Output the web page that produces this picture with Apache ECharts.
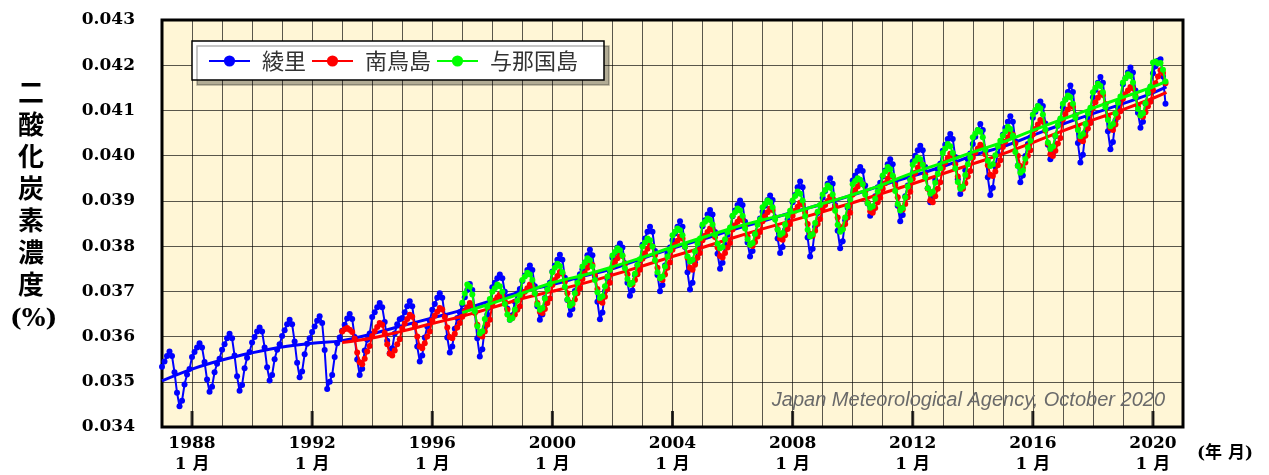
<!DOCTYPE html>
<html>
<head>
<meta charset="utf-8">
<script src="https://cdn.jsdelivr.net/npm/echarts@6/dist/echarts.min.js"></script>
<style>
html,body{margin:0;padding:0;background:#fff;}
#chart{width:1269px;height:475px;}
</style>
</head>
<body>
<div id="chart"></div>
<script>
// Monthly CO2 concentration (ppm; axis shows as %)
const seriesNames = ['綾里', '南鳥島', '与那国島'];
const ryoriStart = 1987;   // first month: Jan 1987
const ryoriValues = [
353.3,354.5,355.7,356.7,355.7,352.1,347.6,344.6,345.8,349.4,351.6,352.8,
355.5,356.6,357.6,358.5,357.6,354.4,350.5,347.8,348.9,352.1,354.0,355.1,
357.1,358.3,359.6,360.6,359.6,355.8,351.2,348.0,349.3,353.0,355.3,356.6,
358.7,359.9,361.1,362.0,361.1,357.6,353.2,350.3,351.5,355.0,357.1,358.3,
360.1,361.4,362.7,363.7,362.7,358.9,354.2,351.0,352.3,356.1,358.4,359.6,
361.0,362.2,363.5,364.5,363.0,357.0,348.4,350.0,351.5,355.5,358.5,359.8,
361.3,362.6,364.0,365.0,363.9,359.9,354.9,351.5,352.9,356.9,359.3,360.7,
364.3,365.4,366.5,367.4,366.5,363.2,359.1,356.3,357.4,360.7,362.7,363.8,
364.1,365.4,366.7,367.8,366.7,362.7,357.8,354.5,355.8,359.8,362.2,363.5,
365.9,367.2,368.6,369.6,368.6,364.6,359.8,356.5,357.8,361.7,364.1,365.4,
367.1,368.7,370.3,371.6,370.3,365.5,359.6,355.6,357.2,362.0,364.9,366.5,
370.9,371.9,372.9,373.7,372.9,369.9,366.2,363.7,364.7,367.7,369.5,370.5,
372.3,373.5,374.7,375.7,374.7,371.1,366.7,363.7,364.9,368.5,370.7,371.9,
374.4,375.7,377.0,378.1,377.0,373.0,368.1,364.8,366.1,370.1,372.5,373.8,
374.9,376.4,378.0,379.2,378.0,373.3,367.7,363.8,365.3,370.0,372.7,374.3,
377.4,378.5,379.7,380.6,379.7,376.2,371.9,369.0,370.2,373.6,375.7,376.9,
380.3,381.7,383.2,384.3,383.2,378.9,373.6,370.0,371.4,375.7,378.3,379.7,
381.3,382.8,384.3,385.5,384.3,379.8,374.2,370.4,371.9,376.4,379.2,380.7,
384.4,385.7,387.0,388.0,387.0,383.1,378.3,375.0,376.3,380.2,382.5,383.8,
386.6,387.9,389.1,390.1,389.1,385.4,380.8,377.7,378.9,382.7,384.9,386.1,
387.6,388.9,390.2,391.2,390.2,386.4,381.7,378.5,379.8,383.6,385.9,387.1,
389.7,391.3,393.0,394.3,393.0,388.0,381.9,377.7,379.4,384.3,387.3,389.0,
390.7,392.2,393.8,395.0,393.8,389.1,383.4,379.5,381.1,385.7,388.5,390.0,
394.5,395.6,396.6,397.5,396.6,393.4,389.4,386.7,387.8,391.0,393.0,394.0,
395.4,396.7,398.1,399.2,398.1,394.0,388.9,385.5,386.9,391.0,393.4,394.8,
398.7,400.0,401.2,402.2,401.2,397.5,392.8,389.7,391.0,394.7,397.0,398.2,
401.1,402.4,403.7,404.8,403.7,399.7,394.8,391.5,392.8,396.8,399.2,400.5,
402.6,404.2,405.7,407.0,405.7,401.0,395.2,391.3,392.9,397.6,400.4,402.0,
404.6,406.1,407.5,408.7,407.5,403.2,397.8,394.1,395.6,399.9,402.6,404.0,
408.4,409.7,411.0,412.0,411.0,407.1,402.4,399.2,400.5,404.3,406.6,407.9,
410.7,412.4,414.1,415.5,414.1,409.0,402.8,398.5,400.2,405.3,408.4,410.1,
412.9,414.5,416.1,417.4,416.1,411.3,405.4,401.4,403.0,407.8,410.7,412.3,
415.8,417.1,418.4,419.5,418.4,414.4,409.5,406.2,407.5,411.5,413.9,415.2,
418.2,419.8,421.0,421.3,417.5,411.5
];
const minamiStart = 1993;  // first month: Jan 1993
const minamiValues = [
361.1,361.6,361.9,361.5,361.0,359.5,356.5,354.3,353.9,355.1,356.7,357.9,
360.1,361.2,362.1,363.0,362.6,360.8,358.3,356.2,355.8,356.9,358.3,359.4,
361.8,362.9,363.9,364.8,364.4,362.6,360.0,357.8,357.4,358.5,360.0,361.1,
363.6,364.6,365.5,366.3,366.0,364.3,362.0,359.9,359.6,360.6,362.0,363.0,
364.4,365.6,366.5,367.4,367.0,365.2,362.6,360.4,360.0,361.1,362.6,363.7,
367.2,368.0,368.7,369.3,369.0,367.7,365.9,364.4,364.1,364.9,365.9,366.7,
369.0,369.9,370.7,371.5,371.2,369.6,367.4,365.5,365.2,366.1,367.4,368.4,
371.4,372.5,373.4,374.3,373.9,372.1,369.6,367.5,367.1,368.2,369.6,370.7,
372.7,374.0,375.2,376.2,375.8,373.6,370.5,367.9,367.5,368.8,370.5,371.9,
375.5,376.5,377.3,378.1,377.8,376.1,373.8,371.8,371.5,372.5,373.8,374.8,
377.2,378.4,379.4,380.3,379.9,378.0,375.2,372.9,372.5,373.7,375.2,376.4,
379.2,380.3,381.2,382.1,381.7,379.9,377.4,375.2,374.8,375.9,377.4,378.5,
381.3,382.3,383.1,383.9,383.6,382.0,379.7,377.8,377.5,378.5,379.7,380.7,
383.7,384.6,385.4,386.1,385.8,384.3,382.1,380.3,380.0,380.9,382.1,383.1,
385.5,386.6,387.5,388.3,388.0,386.2,383.8,381.7,381.4,382.4,383.8,384.9,
386.7,387.8,388.7,389.6,389.2,387.4,384.9,382.7,382.3,383.4,384.9,386.0,
388.1,389.1,390.0,390.9,390.5,388.8,386.3,384.2,383.8,384.9,386.3,387.4,
391.4,392.4,393.2,394.0,393.7,392.0,389.7,387.7,387.4,388.4,389.7,390.7,
392.7,393.9,394.9,395.8,395.4,393.5,390.8,388.5,388.1,389.3,390.8,392.0,
394.9,396.2,397.4,398.4,398.0,395.8,392.7,390.1,389.7,391.0,392.7,394.1,
397.3,398.5,399.5,400.4,400.0,398.1,395.4,393.1,392.7,393.9,395.4,396.6,
399.6,400.7,401.6,402.4,402.1,400.3,397.9,395.8,395.5,396.5,397.9,399.0,
401.9,403.1,404.1,405.0,404.6,402.7,400.0,397.7,397.3,398.5,400.0,401.2,
404.7,405.9,406.9,407.9,407.5,405.5,402.7,400.3,399.9,401.1,402.7,403.9,
408.0,409.2,410.2,411.2,410.8,408.8,406.0,403.6,403.2,404.4,406.0,407.2,
410.6,411.8,412.8,413.8,413.4,411.4,408.5,406.1,405.7,406.9,408.5,409.8,
412.6,413.6,414.4,415.2,414.9,413.2,410.9,408.9,408.6,409.6,410.9,411.9,
414.5,416.0,417.5,418.9,418.3,416.0
];
const yonaguniStart = 1997; // first month: Jan 1997
const yonaguniValues = [
367.5,369.5,371.5,371.0,369.3,365.6,362.3,360.7,361.2,363.9,366.6,368.3,
369.9,370.7,371.5,371.1,369.9,367.2,364.9,363.7,364.1,366.0,368.0,369.2,
372.5,373.3,374.1,373.7,372.5,369.6,367.1,365.9,366.3,368.4,370.4,371.6,
374.2,375.2,376.1,375.6,374.2,371.0,368.2,366.8,367.3,369.6,371.9,373.3,
375.5,376.4,377.3,376.9,375.5,372.5,369.8,368.5,368.9,371.1,373.3,374.7,
377.9,378.7,379.5,379.1,377.9,375.1,372.7,371.5,371.9,373.9,375.9,377.1,
379.9,380.8,381.7,381.3,379.9,376.9,374.2,372.9,373.3,375.5,377.7,379.1,
382.4,383.2,383.9,383.5,382.4,379.9,377.7,376.6,377.0,378.8,380.6,381.7,
384.8,385.4,386.1,385.8,384.8,382.5,380.5,379.5,379.8,381.5,383.1,384.1,
386.7,387.5,388.3,387.9,386.7,383.9,381.5,380.3,380.7,382.7,384.7,385.9,
388.6,389.3,390.1,389.7,388.6,385.9,383.6,382.5,382.9,384.8,386.7,387.8,
390.1,391.1,392.1,391.6,390.1,386.6,383.6,382.1,382.6,385.1,387.6,389.1,
391.4,392.4,393.4,392.9,391.4,387.8,384.7,383.2,383.7,386.3,388.8,390.3,
393.7,394.4,395.0,394.7,393.7,391.4,389.5,388.5,388.8,390.5,392.1,393.1,
395.6,396.5,397.5,397.0,395.6,392.2,389.3,387.9,388.4,390.8,393.2,394.6,
398.0,398.8,399.6,399.2,398.0,395.2,392.8,391.6,392.0,394.0,396.0,397.2,
400.6,401.6,402.6,402.1,400.6,397.2,394.2,392.7,393.2,395.7,398.1,399.6,
404.1,404.9,405.7,405.3,404.1,401.3,398.9,397.7,398.1,400.1,402.1,403.3,
404.4,405.4,406.4,405.9,404.4,400.8,397.7,396.2,396.7,399.3,401.8,403.3,
409.1,410.1,411.0,410.5,409.1,405.8,402.9,401.5,402.0,404.4,406.7,408.2,
411.5,412.4,413.3,412.9,411.5,408.4,405.7,404.3,404.8,407.0,409.3,410.6,
414.0,415.0,415.9,415.4,414.0,410.7,407.9,406.5,407.0,409.3,411.7,413.1,
416.2,417.1,418.0,417.6,416.2,413.0,410.3,408.9,409.4,411.6,413.9,415.3,
420.6,420.8,420.4,420.5,419.0,416.4
];

// Long-term trend lines (value at the start of each year, last point mid-2020)
const ryoriTrendYears = [1987,1988,1989,1990,1991,1992,1993,1994,1995,1996,1997,1998,1999,2000,2001,2002,2003,2004,2005,2006,2007,2008,2009,2010,2011,2012,2013,2014,2015,2016,2017,2018,2019,2020,2020.45];
const ryoriTrend = [350.2,352.8,354.8,356.4,357.7,358.5,359.1,360.6,362.4,364.1,365.9,368.0,370.0,371.5,373.3,375.0,377.3,379.5,381.5,383.6,385.5,387.5,389.3,391.3,393.5,395.5,397.6,400.0,402.0,404.5,407.0,409.3,411.5,413.9,415.2];
const minamiTrendYears = [1993,1994,1995,1996,1997,1998,1999,2000,2001,2002,2003,2004,2005,2006,2007,2008,2009,2010,2011,2012,2013,2014,2015,2016,2017,2018,2019,2020,2020.45];
const minamiTrend = [358.7,359.7,361.2,362.9,364.5,366.4,368.4,370.0,371.7,373.6,375.6,377.7,379.7,381.8,383.8,385.7,387.6,389.6,391.7,393.8,396.0,398.2,400.4,402.9,405.5,407.9,410.2,412.7,414.0];
const yonaguniTrendYears = [1997,1998,1999,2000,2001,2002,2003,2004,2005,2006,2007,2008,2009,2010,2011,2012,2013,2014,2015,2016,2017,2018,2019,2020,2020.45];
const yonaguniTrend = [365.3,367.4,369.6,371.9,373.5,375.4,377.5,379.8,381.9,384.0,385.8,387.4,389.4,391.4,393.6,396.2,398.4,400.8,403.0,405.6,408.1,410.5,412.9,415.2,416.5];

// Axis ticks
const majorTickYears = [1988,1992,1996,2000,2004,2008,2012,2016,2020];
const tickMonthLabel = '1 月';
const colors = ['#0000ff', '#ff0000', '#00ff00'];

function monthly(start, values) {
  return values.map((v, i) => [start + i / 12, v]);
}
function pairs(xs, ys) {
  return xs.map((x, i) => [x, ys[i]]);
}

const chart = echarts.init(document.getElementById('chart'), null, {renderer: 'canvas'});
const serifFont = "'DejaVu Serif', 'Noto Sans CJK JP', serif";

function dataSeries(name, data, color, z) {
  return {
    name: name, type: 'line', data: data, color: color,
    symbol: 'circle', symbolSize: 6, showSymbol: true,
    lineStyle: {width: 2, color: color},
    itemStyle: {color: color},
    z: z, silent: true
  };
}
function trendSeries(name, data, color, z) {
  return {
    name: name + '_trend', type: 'line', data: data, color: color,
    smooth: 0.4, showSymbol: false, symbol: 'none',
    lineStyle: {width: 3, color: color},
    z: z, silent: true
  };
}

const option = {
  animation: false,
  backgroundColor: '#ffffff',
  grid: {
    left: 162, right: 86, top: 20, bottom: 45,
    show: true, backgroundColor: '#fff6d6',
    borderColor: '#000', borderWidth: 3
  },
  legend: {
    data: seriesNames,
    left: 192, top: 41,
    orient: 'horizontal',
    backgroundColor: '#ffffff',
    borderColor: '#000', borderWidth: 1.5,
    shadowColor: 'rgba(0,0,0,0.3)', shadowBlur: 0, shadowOffsetX: 5, shadowOffsetY: 5,
    padding: [9, 26, 8, 16],
    itemWidth: 41, itemHeight: 14, itemGap: 5,
    textStyle: {fontSize: 22, color: '#333', fontFamily: "'Noto Sans CJK JP', sans-serif", padding: [0, 0, 0, 7]},
    selectedMode: false
  },
  xAxis: {
    type: 'value', min: 1987, max: 2021, interval: 1,
    axisLine: {show: false},
    axisTick: {show: false},
    splitLine: {show: true, lineStyle: {color: 'rgba(0,0,0,0.65)', width: 1}},
    axisLabel: {
      margin: 6, color: '#000', fontSize: 17, fontWeight: 'bold', fontFamily: serifFont,
      lineHeight: 21, showMinLabel: true, showMaxLabel: true,
      formatter: function (v) {
        return majorTickYears.indexOf(Math.round(v)) >= 0 ? v + '\n' + tickMonthLabel : '';
      }
    }
  },
  yAxis: {
    type: 'value', min: 340, max: 430, interval: 10,
    axisLine: {show: false},
    axisTick: {show: false},
    splitLine: {show: true, lineStyle: {color: 'rgba(0,0,0,0.65)', width: 1}},
    axisLabel: {
      margin: 27, color: '#000', fontSize: 17, fontWeight: 'bold', fontFamily: serifFont,
      formatter: function (v) { return (v / 10000).toFixed(3); }
    }
  },
  graphic: [
    {type: 'text', left: 18, top: 76, z: 100, style: {text: '二\n酸\n化\n炭\n素\n濃\n度', fontSize: 26, lineHeight: 32, fontWeight: 'bold', fontFamily: "'Noto Sans CJK JP', sans-serif", fill: '#000', textAlign: 'left'}},
    {type: 'text', left: 10, top: 307, z: 100, style: {text: '(%)', fontSize: 25, fontWeight: 'bold', fontFamily: "'DejaVu Serif', serif", fill: '#000'}},
    {type: 'text', right: 1269 - 1165, top: 390, z: 5, style: {text: 'Japan Meteorological Agency, October 2020', fontSize: 20, fontStyle: 'italic', fontFamily: "'Liberation Sans', Arial, sans-serif", fill: '#6a6a6a'}},
    {type: 'text', left: 1197, top: 445, z: 100, style: {text: '(年 月)', fontSize: 17, fontWeight: 'bold', fontFamily: serifFont, fill: '#000'}}
  ],
  series: [
    dataSeries(seriesNames[0], monthly(ryoriStart, ryoriValues), colors[0], 3),
    trendSeries(seriesNames[0], pairs(ryoriTrendYears, ryoriTrend), colors[0], 4),
    dataSeries(seriesNames[1], monthly(minamiStart, minamiValues), colors[1], 5),
    trendSeries(seriesNames[1], pairs(minamiTrendYears, minamiTrend), colors[1], 6),
    dataSeries(seriesNames[2], monthly(yonaguniStart, yonaguniValues), colors[2], 7),
    trendSeries(seriesNames[2], pairs(yonaguniTrendYears, yonaguniTrend), colors[2], 8),
    {
      name: 'majorTicks', type: 'scatter', silent: true, z: 20,
      data: majorTickYears.map(y => [y, 340]),
      symbol: 'rect', symbolSize: [3, 16], symbolOffset: [0, -8],
      itemStyle: {color: '#000'}, clip: false
    }
  ]
};
chart.setOption(option);
</script>
</body>
</html>
